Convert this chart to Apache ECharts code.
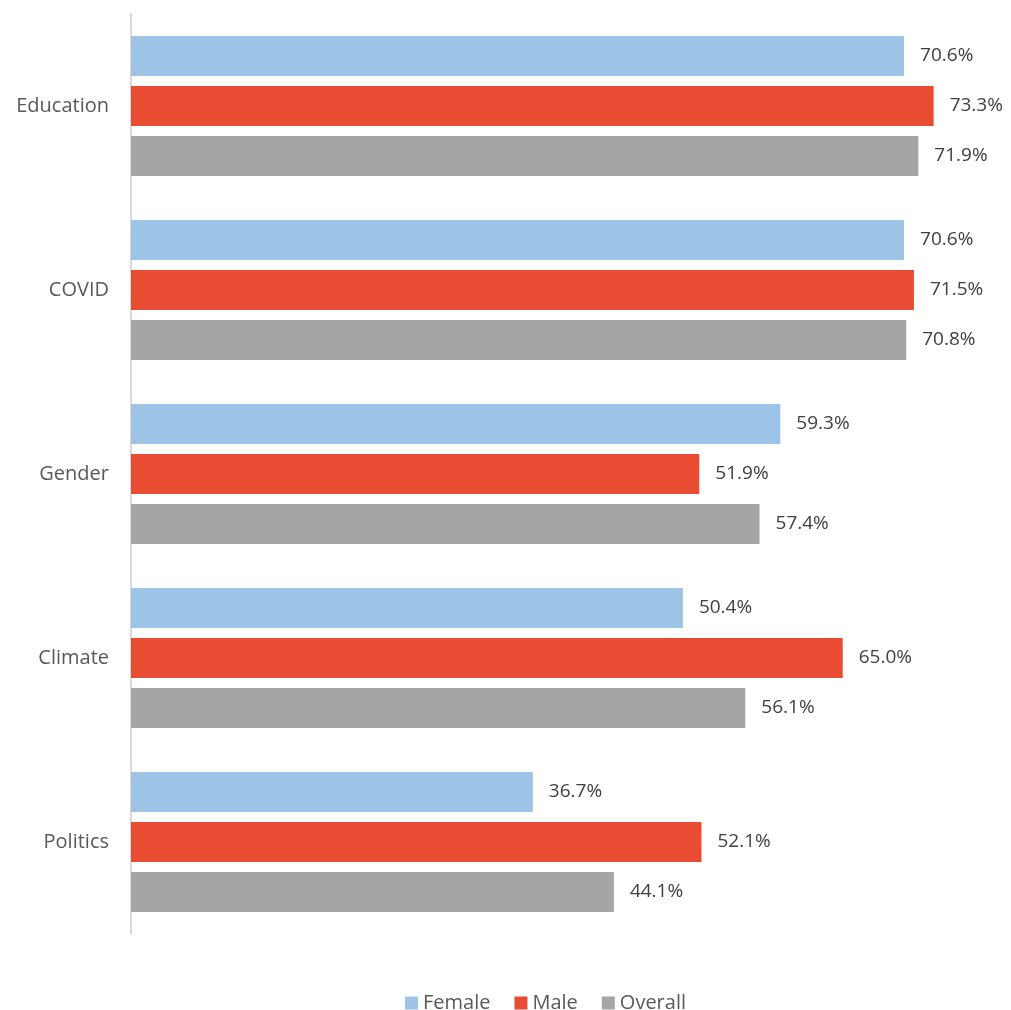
<!DOCTYPE html>
<html>
<head>
<meta charset="utf-8">
<script src="https://cdn.jsdelivr.net/npm/echarts@6/dist/echarts.min.js"></script>
<style>
  html, body { margin: 0; padding: 0; background: #fff; }
  #chart { width: 1011px; height: 1010px; }
</style>
</head>
<body>
<div id="chart"></div>
<script>
// topics, top to bottom
var categories = ['Education', 'COVID', 'Gender', 'Climate', 'Politics']
var female = [70.6, 70.6, 59.3, 50.4, 36.7]
var male = [73.3, 71.5, 51.9, 65.0, 52.1]
var overall = [71.9, 70.8, 57.4, 56.1, 44.1]

var font = 'Open Sans'

function barSeries(name, data, color) {
  return {
    type: 'bar',
    name: name,
    data: data,
    barWidth: 40,
    barGap: '25%',
    barCategoryGap: '24%',
    itemStyle: { color: color },
    label: {
      show: true,
      position: 'right',
      distance: 16,
      formatter: function (p) { return p.value.toFixed(1) + '%' },
      fontFamily: font,
      fontSize: 19,
      color: '#404040'
    }
  }
}

var myChart = echarts.init(document.getElementById('chart'))
myChart.setOption({
  animation: false,
  grid: {
    left: 131,
    right: 4,
    top: 14,
    bottom: 76
  },
  legend: {
    bottom: -8,
    left: 400,
    itemWidth: 13,
    itemHeight: 13,
    itemGap: 24,
    icon: 'rect',
    textStyle: { fontFamily: font, fontSize: 20, color: '#595959' }
  },
  xAxis: {
    type: 'value',
    min: 0,
    max: 80,
    show: false
  },
  yAxis: {
    type: 'category',
    data: categories,
    inverse: true,
    axisTick: { show: false },
    axisLine: { lineStyle: { color: '#d9d9d9', width: 2 } },
    axisLabel: {
      margin: 22,
      fontFamily: font,
      fontSize: 20,
      color: '#595959'
    }
  },
  series: [
    barSeries('Female', female, '#9dc3e6'),
    barSeries('Male', male, '#e84c33'),
    barSeries('Overall', overall, '#a5a5a5')
  ]
})
</script>
</body>
</html>
